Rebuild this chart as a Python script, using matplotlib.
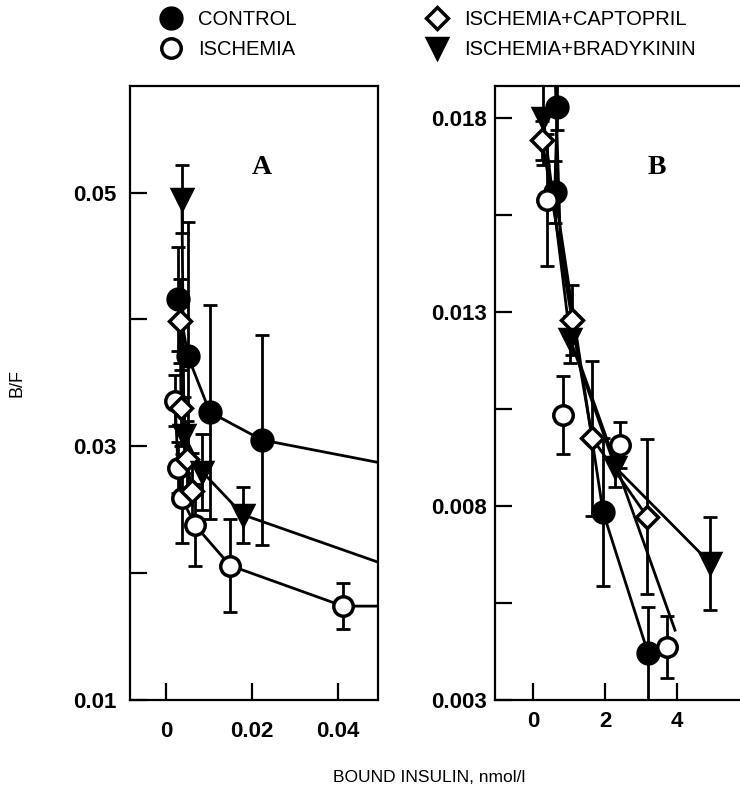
import matplotlib
matplotlib.use('Agg')
import matplotlib.pyplot as plt
from matplotlib.lines import Line2D

# ---- data, panel A (B/F vs bound insulin) ----
ctrl_a_x = [0.0028, 0.0051, 0.0102, 0.0223, 0.065]
ctrl_a_y = [0.0416, 0.0371, 0.0327, 0.0305, 0.0277]
ctrl_a_err = [0.0041, 0.0106, 0.0084, 0.0083, 0.0]

isc_a_x = [0.0021, 0.0028, 0.0037, 0.0067, 0.0149, 0.0412, 0.065]
isc_a_y = [0.0336, 0.0283, 0.0259, 0.0238, 0.0206, 0.0174, 0.0174]
isc_a_err = [0.0020, 0.0020, 0.0035, 0.0032, 0.0037, 0.0018, 0.0]

cap_a_x = [0.0033, 0.0035, 0.0048, 0.0060]
cap_a_y = [0.0399, 0.0330, 0.0290, 0.0265]
cap_a_err = [0.0033, 0.0030, 0.0030, 0.0030]

bk_a_x = [0.0037, 0.0042, 0.0084, 0.0179, 0.065]
bk_a_y = [0.0495, 0.0309, 0.0280, 0.0246, 0.0190]
bk_a_err = [0.0027, 0.0030, 0.0030, 0.0022, 0.0]

# ---- data, panel B ----
ctrl_b_x = [0.67, 0.60, 1.94, 3.19]
ctrl_b_y = [0.0183, 0.0161, 0.00785, 0.00421]
ctrl_b_err = [0.0006, 0.0008, 0.0019, 0.0012]

isc_b_x = [0.39, 0.83, 2.42, 3.72]
isc_b_y = [0.0159, 0.01035, 0.00957, 0.00437]
isc_b_err = [0.0017, 0.0010, 0.0006, 0.0008]
# ischemia curve in B runs past the open circles (fitted line)
isc_b_line_x = [0.62, 0.75, 1.25, 3.94]
isc_b_line_y = [0.0188, 0.0150, 0.0118, 0.0048]

cap_b_x = [0.25, 1.08, 1.64, 3.17]
cap_b_y = [0.01743, 0.0128, 0.00975, 0.00772]
cap_b_err = [0.0005, 0.0009, 0.0020, 0.0020]

bk_b_x = [0.28, 1.03, 2.28, 4.92]
bk_b_y = [0.0180, 0.0123, 0.0090, 0.00653]
bk_b_err = [0.0012, 0.0006, 0.0005, 0.0012]

labels = ['CONTROL', 'ISCHEMIA', 'ISCHEMIA+CAPTOPRIL', 'ISCHEMIA+BRADYKININ']

styles = {
    'ctrl': dict(marker='o', mfc='black', ms=15),
    'isc': dict(marker='o', mfc='white', ms=14),
    'cap': dict(marker='D', mfc='white', ms=11),
    'bk': dict(marker='v', mfc='black', ms=15),
}

plt.rcParams['font.family'] = ['Liberation Sans', 'DejaVu Sans']


def draw_series(ax, x, y, err, key, line=True):
    st = styles[key]
    ax.errorbar(x, y, yerr=err, fmt='-' if line else 'none', color='black', lw=2,
                elinewidth=2, capsize=5, capthick=2, zorder=2)
    ax.plot(x, y, linestyle='none', marker=st['marker'], ms=st['ms'],
            mfc=st['mfc'], mec='black', mew=2.5, zorder=3)


def style_axes(ax):
    for s in ax.spines.values():
        s.set_linewidth(1.6)
    ax.tick_params(direction='in', length=12, width=1.6, labelsize=16)
    for lb in ax.get_xticklabels() + ax.get_yticklabels():
        lb.set_fontweight('bold')


fig = plt.figure(figsize=(7.4, 7.95), dpi=100)

# panel A
ax1 = fig.add_axes([130 / 740, 95 / 795, 248 / 740, 614 / 795])
draw_series(ax1, ctrl_a_x, ctrl_a_y, ctrl_a_err, 'ctrl')
draw_series(ax1, isc_a_x, isc_a_y, isc_a_err, 'isc')
draw_series(ax1, cap_a_x, cap_a_y, cap_a_err, 'cap')
draw_series(ax1, bk_a_x, bk_a_y, bk_a_err, 'bk')
ax1.set_xlim(-0.00837, 0.0493)
ax1.set_ylim(0.01, 0.0584)
ax1.set_xticks([0, 0.02, 0.04], ['0', '0.02', '0.04'])
ax1.set_yticks([0.01, 0.02, 0.03, 0.04, 0.05], ['0.01', '', '0.03', '', '0.05'])
style_axes(ax1)
ax1.tick_params(axis='x', pad=15)
ax1.tick_params(axis='y', pad=10)
ax1.text(0.53, 0.868, 'A', transform=ax1.transAxes, ha='center', va='center',
         fontsize=20, fontweight='bold', family='Liberation Serif')

# panel B
ax2 = fig.add_axes([495 / 740, 95 / 795, 265 / 740, 614 / 795])
draw_series(ax2, ctrl_b_x, ctrl_b_y, ctrl_b_err, 'ctrl')
ax2.plot(isc_b_line_x, isc_b_line_y, color='black', lw=2, zorder=2)
draw_series(ax2, isc_b_x, isc_b_y, isc_b_err, 'isc', line=False)
draw_series(ax2, cap_b_x, cap_b_y, cap_b_err, 'cap')
draw_series(ax2, bk_b_x, bk_b_y, bk_b_err, 'bk')
ax2.set_xlim(-1.06, 6.3)
ax2.set_ylim(0.003, 0.01883)
ax2.set_xticks([0, 2, 4], ['0', '2', '4'])
ax2.set_yticks([0.003, 0.0055, 0.008, 0.0105, 0.013, 0.0155, 0.018],
               ['0.003', '', '0.008', '', '0.013', '', '0.018'])
style_axes(ax2)
ax2.tick_params(axis='x', pad=8)
ax2.tick_params(axis='y', pad=6)
ax2.text(162 / 265, 0.868, 'B', transform=ax2.transAxes, ha='center', va='center',
         fontsize=20, fontweight='bold', family='Liberation Serif')

fig.text(17 / 740, 1 - 383 / 795, 'B/F', rotation=90, ha='center', va='center', fontsize=13)
fig.text(429 / 740, 1 - 777 / 795, 'BOUND INSULIN, nmol/l', ha='center', va='center', fontsize=12.5)

handles = [Line2D([], [], linestyle='none', marker=styles[k]['marker'], ms=styles[k]['ms'],
                  mfc=styles[k]['mfc'], mec='black', mew=2.5)
           for k in ['ctrl', 'isc', 'cap', 'bk']]
fig.legend(handles, labels, ncol=2, frameon=False, loc='upper left',
           bbox_to_anchor=(151 / 740, 1 - 0 / 795), fontsize=14.5,
           handlelength=1.0, handletextpad=0.85, columnspacing=6.45,
           labelspacing=0.55, borderpad=0)

fig.savefig('out.png', dpi=100)
